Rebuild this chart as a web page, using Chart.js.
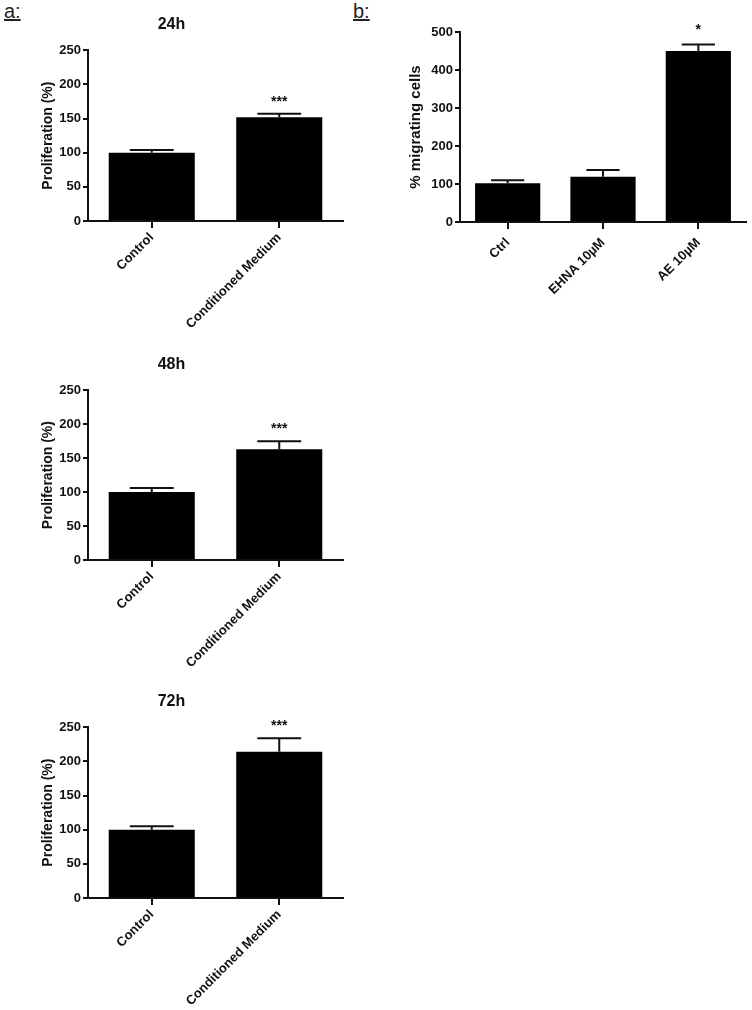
<!DOCTYPE html>
<html>
<head>
<meta charset="utf-8">
<script src="https://cdn.jsdelivr.net/npm/chart.js@4.4.0/dist/chart.umd.min.js"></script>
<style>
  body { margin: 0; background: #fff; width: 752px; height: 1010px; position: relative; overflow: hidden; }
  canvas { position: absolute; }
  .panel { position: absolute; font: 20px "Liberation Sans", Arial, sans-serif; color: #222; text-decoration: underline; line-height: 23px; }
</style>
</head>
<body>
<div class="panel" style="left:4px;top:0px">a:</div>
<div class="panel" style="left:353px;top:0px">b:</div>
<canvas id="c24" width="346" height="335" style="left:0;top:0"></canvas>
<canvas id="c48" width="346" height="335" style="left:0;top:340px"></canvas>
<canvas id="c72" width="346" height="333" style="left:0;top:677px"></canvas>
<canvas id="cb" width="400" height="310" style="left:352px;top:0"></canvas>
<script>
// panel a: proliferation (%) at three time points
const groupsA = ['Control', 'Conditioned Medium'];
const prolif24 = [100, 152];
const sem24 = [4, 5];
const prolif48 = [100, 163];
const sem48 = [6, 12];
const prolif72 = [100, 214];
const sem72 = [5, 20];
const sigA = ['', '***'];

// panel b: migrating cells
const groupsB = ['Ctrl', 'EHNA 10µM', 'AE 10µM'];
const migrating = [102, 119, 450];
const semB = [8, 18, 17];
const sigB = ['', '', '*'];

const ink = '#111';
const family = '"Liberation Sans", Arial, sans-serif';

// error bars (+SEM) and significance stars above each bar
const errorBars = {
    id: 'errorBars',
    afterDatasetsDraw(chart) {
        const ctx = chart.ctx;
        const y = chart.scales.y;
        const ds = chart.data.datasets[0];
        const meta = chart.getDatasetMeta(0);
        ctx.save();
        ctx.strokeStyle = ink;
        ctx.lineWidth = 2;
        meta.data.forEach((bar, i) => {
            const top = y.getPixelForValue(ds.data[i] + ds.sem[i]);
            const half = bar.width * 0.255;
            ctx.beginPath();
            ctx.moveTo(bar.x, bar.y);
            ctx.lineTo(bar.x, top);
            ctx.moveTo(bar.x - half, top);
            ctx.lineTo(bar.x + half, top);
            ctx.stroke();
            if (ds.sig[i]) {
                ctx.fillStyle = ink;
                ctx.font = 'bold 14px ' + family;
                ctx.textAlign = 'center';
                ctx.textBaseline = 'alphabetic';
                ctx.fillText(ds.sig[i], bar.x, top - ds.starGap);
            }
        });
        ctx.restore();
    }
};

function makeChart(id, labels, values, sem, sig, cfg) {
    return new Chart(document.getElementById(id), {
        type: 'bar',
        data: {
            labels: labels,
            datasets: [{
                data: values,
                sem: sem,
                sig: sig,
                starGap: cfg.starGap,
                backgroundColor: '#000',
                borderWidth: 0,
                categoryPercentage: 1,
                barPercentage: cfg.barPct
            }]
        },
        plugins: [errorBars],
        options: {
            responsive: false,
            animation: false,
            layout: { padding: cfg.padding },
            plugins: {
                legend: { display: false },
                tooltip: { enabled: false },
                title: {
                    display: !!cfg.title,
                    text: cfg.title,
                    color: ink,
                    font: { family: family, size: 16, weight: 'bold' },
                    padding: { top: 15, bottom: 16 }
                }
            },
            scales: {
                x: {
                    offset: true,
                    grid: { offset: false, drawOnChartArea: false, tickLength: 7, lineWidth: 2, color: ink },
                    border: { color: ink, width: 2 },
                    ticks: {
                        color: ink,
                        font: { family: family, size: cfg.tickSize, weight: 'bold' },
                        minRotation: 45,
                        maxRotation: 45,
                        padding: cfg.xPad
                    },
                    afterFit: s => { s.height = cfg.xHeight; }
                },
                y: {
                    min: 0,
                    max: cfg.yMax,
                    ticks: {
                        stepSize: cfg.step,
                        color: ink,
                        font: { family: family, size: cfg.tickSize, weight: 'bold' },
                        padding: 2
                    },
                    grid: { drawOnChartArea: false, tickLength: 5, lineWidth: 2, color: ink },
                    border: { color: ink, width: 2 },
                    title: {
                        display: true,
                        text: cfg.yTitle,
                        color: ink,
                        font: { family: family, size: cfg.yTitleSize, weight: 'bold' },
                        padding: { top: cfg.yTitlePad, bottom: 0 }
                    },
                    afterFit: s => { s.width = cfg.yWidth; }
                }
            }
        }
    });
}

const panelA = {
    barPct: 0.675,
    padding: { top: 0, right: 3, bottom: 0, left: 0 },
    tickSize: 13,
    xPad: 2,
    yMax: 250,
    step: 50,
    yTitle: 'Proliferation (%)',
    yTitleSize: 14,
    yTitlePad: 40,
    yWidth: 88,
    starGap: 8
};

makeChart('c24', groupsA, prolif24, sem24, sigA, { ...panelA, title: '24h', xHeight: 114 });
makeChart('c48', groupsA, prolif48, sem48, sigA, { ...panelA, title: '48h', xHeight: 115 });
makeChart('c72', groupsA, prolif72, sem72, sigA, { ...panelA, title: '72h', xHeight: 112 });

makeChart('cb', groupsB, migrating, semB, sigB, {
    barPct: 0.684,
    padding: { top: 32, right: 6, bottom: 0, left: 0 },
    tickSize: 13,
    xPad: 6,
    yMax: 500,
    step: 100,
    yTitle: '% migrating cells',
    yTitleSize: 15,
    yTitlePad: 55,
    yWidth: 108,
    title: '',
    xHeight: 88,
    starGap: 11
});
</script>
</body>
</html>
